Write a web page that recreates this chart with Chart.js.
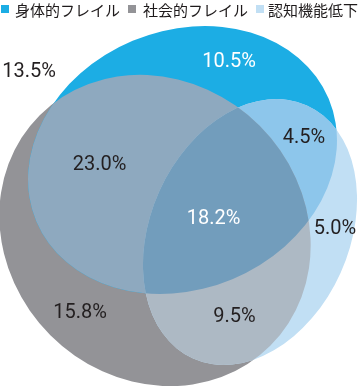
<!DOCTYPE html>
<html>
<head>
<meta charset="utf-8">
<script src="https://cdn.jsdelivr.net/npm/chart.js@4.4.1/dist/chart.umd.min.js"></script>
<style>
html,body{margin:0;padding:0;background:#ffffff;}
#wrap{width:358px;height:386px;position:relative;}
canvas{display:block;}
</style>
</head>
<body>
<div id="wrap"><canvas id="c" width="358" height="386"></canvas></div>
<script>
// ---- data ----
const setNames = ['身体的フレイル', '社会的フレイル', '認知機能低下'];
const regionNames = ['該当なし', '身体的のみ', '身体的・認知', '身体的・社会的', '3つすべて', '認知のみ', '社会的のみ', '社会的・認知'];
const regionValues = [13.5, 10.5, 4.5, 23.0, 18.2, 5.0, 15.8, 9.5];

// ---- styles / layout (scale units: x 0..358, y 0..386) ----
const setColors = ['#1cade4', '#939397', '#c1dff4'];
const pairColors = { PS: '#8ea9bf', PC: '#8dc6eb', SC: '#adb9c4', PSC: '#729dbc' };
const shapes = [
  { cx: 182.5, cy: 160, rx: 158.5, ry: 129.2, rot: -22.7 }, // 身体的
  { cx: 155, cy: 230.5, rx: 163, ry: 148, rot: 45 },        // 社会的
  { cx: 250, cy: 232, rx: 99.4, ry: 138.8, rot: 24.2 }      // 認知
];
const labelPos = [[29, 72], [229, 62], [304, 138], [99.5, 165], [213.5, 219], [335, 229], [80, 313], [234.5, 317]];
const labelWhite = [false, true, false, false, true, false, false, false];
const legendBoxX = [1, 128, 256];
const legendTextX = [15, 143, 268];

const vennPlugin = {
  id: 'venn',
  beforeDatasetsDraw(chart) {
    const { ctx, scales: { x, y } } = chart;
    const geo = shapes.map(s => ({
      cx: x.getPixelForValue(s.cx), cy: y.getPixelForValue(s.cy),
      rx: Math.abs(x.getPixelForValue(s.cx + s.rx) - x.getPixelForValue(s.cx)),
      ry: Math.abs(y.getPixelForValue(s.cy + s.ry) - y.getPixelForValue(s.cy)),
      rot: s.rot * Math.PI / 180
    }));
    const path = g => { ctx.beginPath(); ctx.ellipse(g.cx, g.cy, g.rx, g.ry, g.rot, 0, Math.PI * 2); };
    const fill = (g, c) => { path(g); ctx.fillStyle = c; ctx.fill(); };
    const [P, S, C] = geo;
    ctx.save();
    fill(S, setColors[1]);
    fill(P, setColors[0]);
    fill(C, setColors[2]);
    ctx.save(); path(P); ctx.clip(); fill(S, pairColors.PS); ctx.restore();
    ctx.save(); path(P); ctx.clip(); fill(C, pairColors.PC); ctx.restore();
    ctx.save(); path(S); ctx.clip(); fill(C, pairColors.SC); ctx.restore();
    ctx.save(); path(P); ctx.clip(); path(S); ctx.clip(); fill(C, pairColors.PSC); ctx.restore();
    ctx.restore();
  },
  afterDatasetsDraw(chart) {
    const { ctx, scales: { x, y } } = chart;
    ctx.save();
    ctx.font = '20px Roboto, "Liberation Sans", sans-serif';
    ctx.textAlign = 'center';
    ctx.textBaseline = 'middle';
    regionValues.forEach((v, i) => {
      ctx.fillStyle = labelWhite[i] ? '#ffffff' : '#231f20';
      ctx.fillText(v.toFixed(1) + '%', x.getPixelForValue(labelPos[i][0]), y.getPixelForValue(labelPos[i][1]));
    });
    // legend
    ctx.font = '15px "Noto Sans CJK JP", sans-serif';
    ctx.textAlign = 'left';
    chart.data.datasets.forEach((ds, i) => {
      ctx.fillStyle = ds.backgroundColor;
      ctx.fillRect(legendBoxX[i], 5, 8, 8);
      ctx.fillStyle = '#1e1a1b';
      ctx.fillText(ds.label, legendTextX[i], 10);
    });
    ctx.restore();
  }
};

new Chart(document.getElementById('c'), {
  type: 'scatter',
  data: {
    datasets: setNames.map((n, i) => ({ label: n, data: [], backgroundColor: setColors[i] }))
  },
  options: {
    responsive: false,
    animation: false,
    devicePixelRatio: 1,
    layout: { padding: 0 },
    scales: {
      x: { type: 'linear', min: 0, max: 358, display: false },
      y: { type: 'linear', min: 0, max: 386, reverse: true, display: false }
    },
    plugins: { legend: { display: false }, tooltip: { enabled: false } }
  },
  plugins: [vennPlugin]
});
</script>
</body>
</html>
